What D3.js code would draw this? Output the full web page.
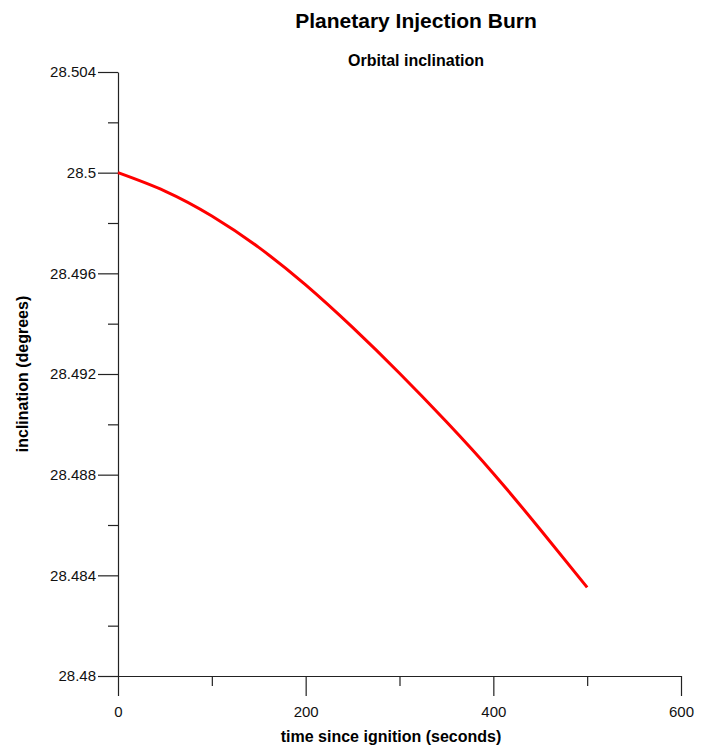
<!DOCTYPE html>
<html>
<head>
<meta charset="utf-8">
<script src="https://cdn.jsdelivr.net/npm/d3@7"></script>
<style>
  body { margin: 0; background: #fff; }
  svg { display: block; font-family: "Liberation Sans", Arial, sans-serif; }
</style>
</head>
<body>
<svg id="chart" width="711" height="747"></svg>
<script>
// time since ignition (s) and orbital inclination (deg)
const times = [0, 50, 100, 150, 200, 250, 300, 350, 400, 450, 500];
const inclination = [28.5, 28.49927, 28.49828, 28.49703, 28.49554, 28.49385,
  28.49203, 28.4901, 28.48805, 28.48582, 28.48352];

const xMajorTicks = [0, 200, 400, 600];
const xMinorTicks = [100, 300, 500];
const yMajorTicks = [28.48, 28.484, 28.488, 28.492, 28.496, 28.5, 28.504];
const yMinorTicks = [28.482, 28.486, 28.49, 28.494, 28.498, 28.502];

const width = 711, height = 747;
const margin = { top: 72, right: 30, bottom: 71, left: 118 };

const svg = d3.select("#chart");

const x = d3.scaleLinear().domain([0, 600]).range([margin.left, width - margin.right]);
const y = d3.scaleLinear().domain([28.48, 28.504]).range([height - margin.bottom, margin.top]);

// x axis: major ticks labelled, minor ticks short
const xAxis = svg.append("g").attr("transform", `translate(0,${y(28.48)})`);
xAxis.call(
  d3.axisBottom(x).tickValues(xMajorTicks).tickSize(20).tickSizeOuter(0)
    .tickPadding(10).tickFormat(d3.format("d")),
);
xAxis.append("g").call(
  d3.axisBottom(x).tickValues(xMinorTicks).tickSize(10).tickFormat(""),
).select(".domain").remove();

const yAxis = svg.append("g").attr("transform", `translate(${x(0)},0)`);
yAxis.call(
  d3.axisLeft(y).tickValues(yMajorTicks).tickSize(20).tickSizeOuter(0)
    .tickPadding(2).tickFormat((d) => String(+d.toFixed(3))),
);
yAxis.append("g").call(
  d3.axisLeft(y).tickValues(yMinorTicks).tickSize(10).tickFormat(""),
).select(".domain").remove();

svg.selectAll(".tick text")
  .attr("font-size", 15)
  .attr("font-family", "Liberation Sans, Arial, sans-serif")
  .attr("fill", "#111");
svg.selectAll(".domain, .tick line").attr("stroke", "#222").attr("stroke-width", 1.2);

// the burn curve
const line = d3.line()
  .x((d) => x(d[0]))
  .y((d) => y(d[1]))
  .curve(d3.curveNatural);

svg.append("path")
  .datum(times.map((t, i) => [t, inclination[i]]))
  .attr("fill", "none")
  .attr("stroke", "#ff0000")
  .attr("stroke-width", 3)
  .attr("d", line);

// titles
svg.append("text")
  .attr("x", 416).attr("y", 28)
  .attr("text-anchor", "middle")
  .attr("font-size", 21).attr("font-weight", "bold")
  .text("Planetary Injection Burn");

svg.append("text")
  .attr("x", 416).attr("y", 66)
  .attr("text-anchor", "middle")
  .attr("font-size", 16).attr("font-weight", "bold")
  .text("Orbital inclination");

svg.append("text")
  .attr("x", 391).attr("y", 742)
  .attr("text-anchor", "middle")
  .attr("font-size", 16).attr("font-weight", "bold")
  .text("time since ignition (seconds)");

svg.append("text")
  .attr("transform", "translate(28,374) rotate(-90)")
  .attr("text-anchor", "middle")
  .attr("font-size", 16).attr("font-weight", "bold")
  .text("inclination (degrees)");
</script>
</body>
</html>
